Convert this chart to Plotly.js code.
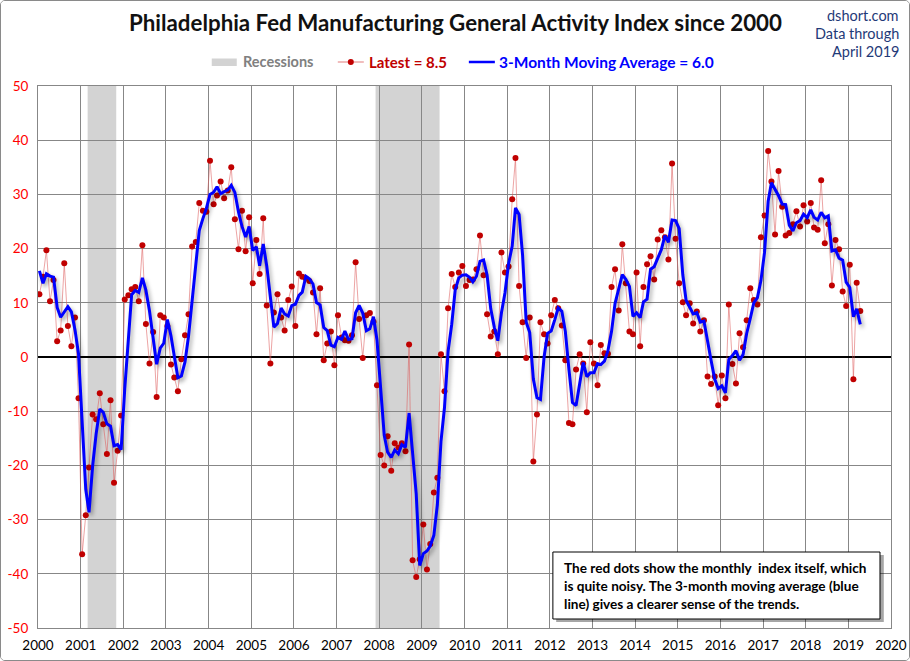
<!DOCTYPE html>
<html>
<head>
<meta charset="utf-8">
<script src="https://cdn.plot.ly/plotly-3.0.1.min.js"></script>
<style>
  html, body { margin: 0; padding: 0; background: #fff; }
  #frame { width: 910px; height: 661px; box-sizing: border-box; border: 1px solid #8a8a8a; border-radius: 5px; overflow: hidden; }
  #chart { width: 908px; height: 659px; }
</style>
</head>
<body>
<div id="frame"><div id="chart"></div></div>
<script>
// ---- Data ----
const startYear = 2000;
const prior1999 = [21.7, 14.4];  // Nov, Dec 1999 (needed for the first moving-average points)
const index2000 = [11.6, 14.8, 19.7, 10.3, 14.2, 2.9, 4.9, 17.3, 5.7, 2.0, 7.3, -7.6];
const index2001 = [-36.4, -29.2, -20.4, -10.6, -11.5, -6.7, -12.4, -17.9, -8.0, -23.2, -17.3, -10.8];
const index2002 = [10.6, 11.4, 12.5, 12.9, 10.3, 20.6, 6.1, -1.2, 4.6, -7.4, 7.7, 7.3];
const index2003 = [5.7, -1.4, -3.8, -6.3, -0.4, 4.0, 7.9, 20.4, 21.2, 28.4, 27.0, 26.8];
const index2004 = [36.2, 28.2, 29.8, 32.4, 29.3, 30.7, 35.0, 25.4, 19.9, 27.0, 19.5, 25.8];
const index2005 = [13.6, 21.6, 15.3, 25.6, 9.5, -1.2, 8.2, 11.6, 7.3, 4.9, 10.5, 13.0];
const index2006 = [5.7, 15.4, 14.8, 14.5, 14.0, 11.9, 4.2, 12.7, -0.6, 2.5, 4.7, -1.5];
const index2007 = [7.7, 3.6, 3.1, 3.0, 4.0, 17.5, 7.0, -0.2, 7.7, 8.1, 6.5, -5.2];
const index2008 = [-18.1, -20.0, -14.6, -21.0, -15.9, -16.7, -15.9, -17.4, 2.3, -37.5, -40.6, -37.3];
const index2009 = [-30.9, -39.2, -34.5, -25.0, -22.3, 0.5, -6.3, 9.0, 15.3, 12.9, 15.6, 16.8];
const index2010 = [13.1, 14.2, 14.3, 16.2, 22.4, 15.1, 7.9, 3.8, 4.7, 0.5, 19.3, 15.6];
const index2011 = [16.7, 29.1, 36.7, 13.1, 6.4, -0.2, 7.3, -19.3, -10.6, 6.4, 4.2, 2.5];
const index2012 = [7.7, 10.5, 9.0, 5.8, -0.6, -12.2, -12.4, -2.3, 0.5, -1.2, -10.2, 2.7];
const index2013 = [-1.2, -5.2, 2.2, 0.7, 0.6, 12.9, 16.2, 8.6, 20.8, 13.6, 4.7, 4.2];
const index2014 = [15.6, 2.0, 12.9, 17.1, 18.6, 14.3, 21.7, 23.4, 22.1, 18.0, 35.7, 21.8];
const index2015 = [13.6, 10.1, 7.7, 9.9, 6.2, 8.4, 4.7, 6.8, -3.6, -5.0, -3.6, -8.9];
const index2016 = [-3.4, -7.6, 9.7, -1.3, -4.9, 4.4, 1.8, 6.8, 12.7, 10.5, 9.7, 22.1];
const index2017 = [26.1, 38.0, 32.4, 22.6, 34.3, 27.7, 22.4, 22.9, 24.5, 26.9, 24.1, 28.0];
const index2018 = [25.0, 28.4, 23.9, 23.5, 32.6, 21.0, 24.5, 13.2, 21.6, 19.9, 12.1, 9.4];
const index2019 = [17.0, -4.1, 13.7, 8.5];

const recessionStarts = ['2001-03-01', '2007-12-01'];
const recessionEnds   = ['2001-11-01', '2009-06-01'];
const yTicks = [50, 40, 30, 20, 10, 0, -10, -20, -30, -40, -50];

// ---- Build series ----
const values = [].concat(index2000, index2001, index2002, index2003, index2004, index2005,
  index2006, index2007, index2008, index2009, index2010, index2011, index2012, index2013,
  index2014, index2015, index2016, index2017, index2018, index2019);
const dates = values.map((v, i) => {
  const y = startYear + Math.floor(i / 12);
  const m = (i % 12) + 1;
  return y + '-' + String(m).padStart(2, '0') + '-13';
});
const withPrior = prior1999.concat(values);
const movingAvg = values.map((v, i) => (withPrior[i] + withPrior[i + 1] + withPrior[i + 2]) / 3);
const latest = values[values.length - 1];
const latestMA = movingAvg[movingAvg.length - 1];

const FONT = 'Lato, "Open Sans", sans-serif';
const GRID = '#878787';

const traces = [
  {
    x: dates, y: values, type: 'scatter', mode: 'lines+markers',
    line: { color: 'rgba(220,90,90,0.55)', width: 1 },
    marker: { color: '#c00000', size: 6 },
    hoverinfo: 'x+y', showlegend: false
  },
  {
    x: dates, y: movingAvg, type: 'scatter', mode: 'lines',
    line: { color: '#0000ff', width: 3 },
    hoverinfo: 'x+y', showlegend: false
  }
];

// paper coordinate helpers (plot area: 852.7 x 542 px)
const PW = 852.7, PH = 542;
const px = dx => dx / PW, py = dy => dy / PH;

const shapes = recessionStarts.map((s, i) => ({
  type: 'rect', xref: 'x', yref: 'paper', x0: s, x1: recessionEnds[i], y0: 0, y1: 1,
  fillcolor: '#d3d3d3', line: { width: 0 }, layer: 'between'
}));
// legend marks
shapes.push(
  { type: 'rect', xref: 'paper', yref: 'paper', x0: px(173.7), x1: px(198.7), y0: py(562), y1: py(569.5), fillcolor: '#d3d3d3', line: { width: 0 } },
  { type: 'line', xref: 'paper', yref: 'paper', x0: px(299.7), x1: px(325.7), y0: py(566), y1: py(566), line: { color: 'rgba(220,90,90,0.8)', width: 1 } },
  { type: 'circle', xref: 'paper', yref: 'paper', x0: px(309.7), x1: px(315.7), y0: py(563), y1: py(569), fillcolor: '#c00000', line: { width: 0 } },
  { type: 'line', xref: 'paper', yref: 'paper', x0: px(430.7), x1: px(456.7), y0: py(566), y1: py(566), line: { color: '#0000ff', width: 2.5 } },
  // note box shadow + box
  { type: 'rect', xref: 'paper', yref: 'paper', x0: px(518), x1: px(845.5), y0: py(6), y1: py(73), fillcolor: 'rgba(0,0,0,0.35)', line: { width: 0 } },
  { type: 'rect', xref: 'paper', yref: 'paper', x0: px(514.7), x1: px(841.7), y0: py(9), y1: py(76), fillcolor: '#ffffff', line: { color: '#000000', width: 1 } }
);

const ann = (text, xPage, yPage, opts) => Object.assign({
  text: text, xref: 'paper', yref: 'paper', x: px(xPage - 38.3), y: py(628 - yPage),
  showarrow: false, xanchor: 'left', yanchor: 'middle'
}, opts);

const annotations = [
  ann('<b>Philadelphia Fed Manufacturing General Activity Index since 2000</b>', 456, 22,
      { xanchor: 'center', font: { family: FONT, size: 22.3, color: '#111111' } }),
  ann('dshort.com', 900.5, 15, { xanchor: 'right', font: { family: FONT, size: 14.5, color: '#1f3a78' } }),
  ann('Data through', 900.5, 33, { xanchor: 'right', font: { family: FONT, size: 14.5, color: '#1f3a78' } }),
  ann('April 2019', 900.5, 51, { xanchor: 'right', font: { family: FONT, size: 14.5, color: '#1f3a78' } }),
  ann('<b>Recessions</b>', 241, 62, { font: { family: FONT, size: 14.5, color: '#808080' } }),
  ann('<b>Latest = ' + latest.toFixed(1) + '</b>', 367, 62, { font: { family: FONT, size: 15, color: '#c00000' } }),
  ann('<b>3-Month Moving Average = ' + latestMA.toFixed(1) + '</b>', 497, 62, { font: { family: FONT, size: 15.5, color: '#0000ff' } }),
  ann('<b>The red dots show the monthly  index itself, which</b>', 562, 568, { font: { family: FONT, size: 13.6, color: '#000' } }),
  ann('<b>is quite noisy. The 3-month moving average (blue</b>', 562, 586, { font: { family: FONT, size: 13.6, color: '#000' } }),
  ann('<b>line) gives a clearer sense of the trends.</b>', 562, 604, { font: { family: FONT, size: 13.6, color: '#000' } })
];

const layout = {
  width: 908, height: 659,
  margin: { l: 37.3, r: 18, t: 85, b: 32 },
  paper_bgcolor: '#ffffff', plot_bgcolor: '#ffffff',
  showlegend: false,
  font: { family: FONT, size: 13, color: '#000' },
  xaxis: {
    type: 'date', range: ['2000-01-01', '2020-01-01'],
    dtick: 'M12', tick0: '2000-01-01', tickformat: '%Y',
    showgrid: true, gridcolor: GRID, gridwidth: 1,
    showline: true, linecolor: GRID, linewidth: 1, mirror: true,
    ticks: '', zeroline: false, ticklabelstandoff: 5,
    tickfont: { family: FONT, size: 13.5, color: '#000' }
  },
  yaxis: {
    range: [-50, 50], tickvals: yTicks, ticktext: yTicks.map(String),
    showgrid: true, gridcolor: GRID, gridwidth: 1,
    showline: true, linecolor: GRID, linewidth: 1, mirror: true,
    zeroline: true, zerolinecolor: '#000000', zerolinewidth: 2,
    ticks: '', ticklabelstandoff: 6,
    tickfont: { family: FONT, size: 13.5, color: '#ff0000' }
  },
  shapes: shapes,
  annotations: annotations
};

Plotly.newPlot('chart', traces, layout, { displayModeBar: false, staticPlot: true }).then(() => {
  const tr = document.querySelectorAll('.scatterlayer .trace');
  if (tr.length > 1) {
    tr[1].style.filter = 'drop-shadow(2px 3px 2px rgba(0,0,0,0.35))';
  }
});
</script>
</body>
</html>
